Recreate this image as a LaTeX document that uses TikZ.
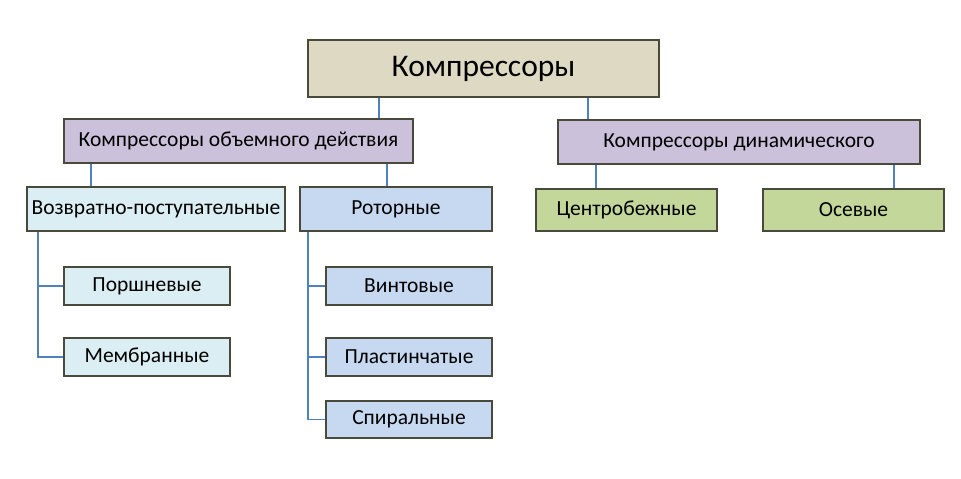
\documentclass[tikz,border=0pt]{standalone}
\usepackage{fontspec}
\setmainfont{Carlito}
\definecolor{cbeige}{HTML}{DDD9C3}
\definecolor{cpurple}{HTML}{CCC1DA}
\definecolor{ccyan}{HTML}{DBEEF4}
\definecolor{cblue}{HTML}{C6D9F1}
\definecolor{cgreen}{HTML}{C4D79B}
\definecolor{cborder}{HTML}{4A4A3C}
\definecolor{cline}{HTML}{4F81BD}
\tikzset{
  box/.style={draw=cborder, line width=1.6pt, rectangle, inner sep=0pt, font=\fontsize{21.5}{24}\selectfont},
  link/.style={draw=cline, line width=1.2pt},
}
\begin{document}
\begin{tikzpicture}[x=1pt,y=-1pt]
\useasboundingbox (0,0) rectangle (961,479);
\node[box, fill=cbeige, minimum width=351pt, minimum height=57pt, font=\fontsize{31.5}{36}\selectfont] (top) at (483.5,68.5) {Компрессоры};
\node[box, fill=cpurple, minimum width=349pt, minimum height=44pt] (pl) at (238.5,141) {Компрессоры объемного действия};
\node[box, fill=cpurple, minimum width=362pt, minimum height=44pt] (pr) at (739,142) {Компрессоры динамического};
\node[box, fill=ccyan, minimum width=258pt, minimum height=44pt] (vp) at (156,209) {Возвратно-поступательные};
\node[box, fill=cblue, minimum width=192pt, minimum height=44pt] (rot) at (396,209) {Роторные};
\node[box, fill=cgreen, minimum width=181pt, minimum height=42pt] (cb) at (626.5,210) {Центробежные};
\node[box, fill=cgreen, minimum width=181pt, minimum height=42pt] (os) at (853.5,210) {Осевые};
\node[box, fill=ccyan, minimum width=166pt, minimum height=38pt] (po) at (147,286) {Поршневые};
\node[box, fill=ccyan, minimum width=166pt, minimum height=38pt] (me) at (147,357) {Мембранные};
\node[box, fill=cblue, minimum width=166pt, minimum height=38pt] (vi) at (409,286) {Винтовые};
\node[box, fill=cblue, minimum width=166pt, minimum height=38pt] (pla) at (409,357) {Пластинчатые};
\node[box, fill=cblue, minimum width=166pt, minimum height=37pt] (sp) at (409,419.5) {Спиральные};
% connectors
\draw[link] (379,0 |- top.south) -- (379,0 |- pl.north);
\draw[link] (588,0 |- top.south) -- (588,0 |- pr.north);
\draw[link] (91,0 |- pl.south) -- (91,0 |- vp.north);
\draw[link] (387,0 |- pl.south) -- (387,0 |- rot.north);
\draw[link] (596,0 |- pr.south) -- (596,0 |- cb.north);
\draw[link] (894,0 |- pr.south) -- (894,0 |- os.north);
\draw[link] (38,0 |- vp.south) -- (38,0 |- me.west) -- (me.west);
\draw[link] (38,0 |- po.west) -- (po.west);
\draw[link] (308,0 |- rot.south) -- (308,0 |- sp.west) -- (sp.west);
\draw[link] (308,0 |- vi.west) -- (vi.west);
\draw[link] (308,0 |- pla.west) -- (pla.west);
\end{tikzpicture}
\end{document}
